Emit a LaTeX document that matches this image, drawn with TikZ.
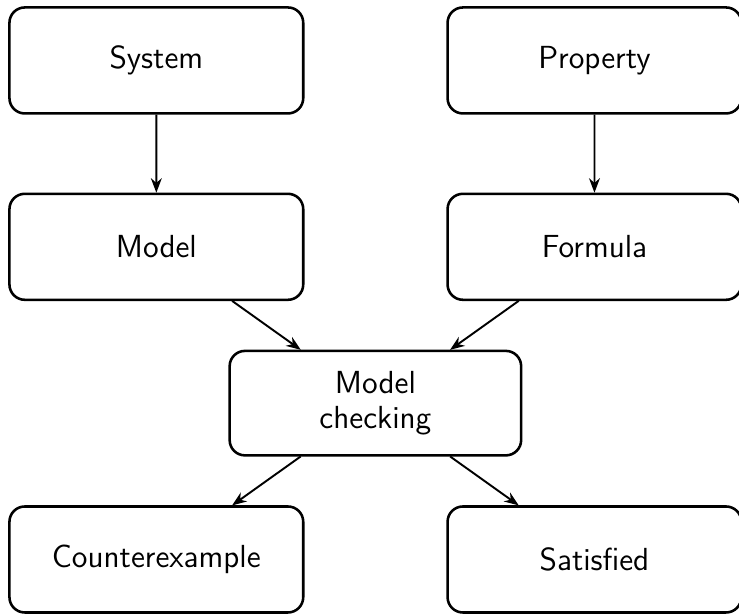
\documentclass[tikz,border=0pt]{standalone}
\usepackage{tikz}
\usetikzlibrary{arrows.meta}
\renewcommand{\familydefault}{\sfdefault}

\begin{document}
\begin{tikzpicture}[every node/.style={scale=0.833, font=\large\sffamily},
    stage/.style={draw, thick, rounded corners=4.8pt, align=center,
        minimum width=3.88cm, minimum height=1.40cm},
    flow/.style={-{Stealth[length=1.6mm,width=1.2mm]}, semithick}]

    \useasboundingbox (-1.72,0.665) rectangle (6.41,-6.08);

    % Nodes
    \node at (0,0) (system) [stage] {System};
    \node at (4.82,0) (property) [stage] {Property};
    \node at (0,-2.05) (model) [stage] {Model};
    \node at (4.82,-2.05) (formula) [stage] {Formula};
    \node at (2.41,-3.77) (check) [stage, minimum width=3.85cm, minimum height=1.38cm] {Model\\[-0.3mm]checking};
    \node at (0,-5.49) (counter) [stage] {Counterexample};
    \node at (4.82,-5.49) (sat) [stage] {Satisfied};

    % Arrows
    \draw[flow] (system) -- (model);
    \draw[flow] (property) -- (formula);
    \draw[flow] (model) -- (check);
    \draw[flow] (formula) -- (check);
    \draw[flow] (check) -- (counter);
    \draw[flow] (check) -- (sat);

\end{tikzpicture}
\end{document}
